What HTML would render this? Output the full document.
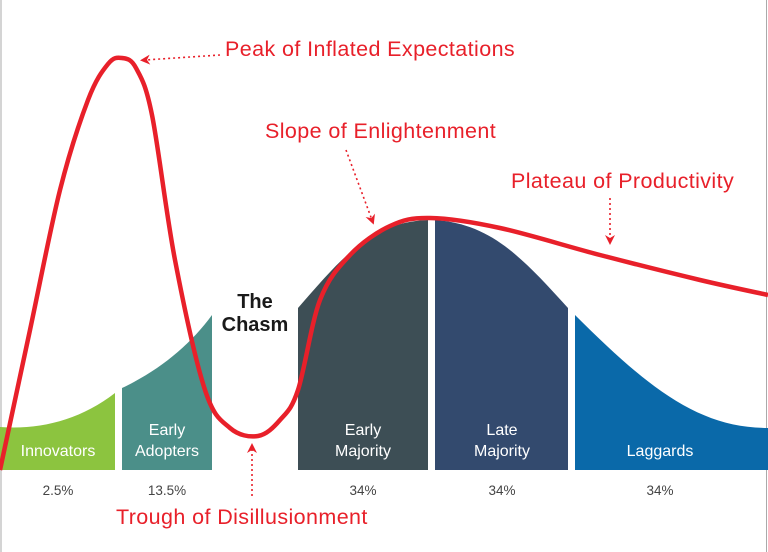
<!DOCTYPE html>
<html><head><meta charset="utf-8">
<style>
body{margin:0;background:#fff}
svg{display:block;font-family:"Liberation Sans",sans-serif}
</style></head>
<body>
<svg id="c" width="768" height="552" viewBox="0 0 768 552">
<defs>
<marker id="ah" markerWidth="10" markerHeight="10" refX="5" refY="5" orient="auto" markerUnits="userSpaceOnUse">
<path d="M0,0 L10,5 L0,10 L3,5 Z" fill="#e8202a"/></marker>
</defs>
<line x1="1" y1="0" x2="1" y2="552" stroke="#aaa" stroke-width="1"/>
<line x1="766.5" y1="0" x2="766.5" y2="552" stroke="#aaa" stroke-width="1"/>
<g id="segs"></g>
<g id="pcts" font-size="13.5" fill="#444" text-anchor="middle"></g>
<text x="255" y="308" font-size="20" font-weight="bold" text-anchor="middle" fill="#1a1a1a"><tspan x="255">The</tspan><tspan x="255" dy="23">Chasm</tspan></text>
<path id="hype" fill="none" stroke="#e8202a" stroke-width="4.5" stroke-linejoin="round"/>
<g fill="#e8202a" font-size="21.5" letter-spacing="0.4">
<text x="225" y="56">Peak of Inflated Expectations</text>
<text x="265" y="138">Slope of Enlightenment</text>
<text x="511" y="188">Plateau of Productivity</text>
<text x="116" y="524">Trough of Disillusionment</text>
</g>
<g stroke="#e8202a" stroke-width="1.6" stroke-dasharray="2,3" fill="none">
<line x1="220" y1="55" x2="145" y2="60" marker-end="url(#ah)"/>
<line x1="346" y1="150" x2="372" y2="220" marker-end="url(#ah)"/>
<line x1="610" y1="198" x2="610" y2="240" marker-end="url(#ah)"/>
<line x1="252" y1="496" x2="252" y2="448" marker-end="url(#ah)"/>
</g>
</svg>
<script>
const categories=["Innovators","Early Adopters","Early Majority","Late Majority","Laggards"];
const shares=["2.5%","13.5%","34%","34%","34%"];
const labelLines=[["Innovators"],["Early","Adopters"],["Early","Majority"],["Late","Majority"],["Laggards"]];
const hypeX=[0,30,60,88,108,122,136,152,175,205,230,258,280,298,320,350,390,430,500,600,700,768];
const hypeY=[470,330,190,100,64,58,68,115,260,390,428,436,420,390,300,255,226,218,228,255,280,295];
const NS="http://www.w3.org/2000/svg";
const colors=["#8cc43f","#4b8f89","#3d4e55","#334a6e","#0a69a9"];
const shapes=[
"M0,470 L0,427 C40,430 80,420 115,393 L115,470 Z",
"M122,470 L122,388 C160,370 190,345 212,315 L212,470 Z",
"M298,470 L298,308 C340,260 370,222 428,220 L428,470 Z",
"M435,470 L435,220 C490,224 520,255 568,308 L568,470 Z",
"M575,470 L575,315 C650,390 700,428 768,428 L768,470 Z"];
const lx=[58,167,363,502,660];
const segs=document.getElementById('segs'),pcts=document.getElementById('pcts');
categories.forEach((c,i)=>{
 const p=document.createElementNS(NS,'path');
 p.setAttribute('d',shapes[i]);p.setAttribute('fill',colors[i]);
 
 
 segs.appendChild(p);
 const t=document.createElementNS(NS,'text');
 t.setAttribute('fill','#fff');t.setAttribute('font-size','16');t.setAttribute('text-anchor','middle');
 
 
 const L=labelLines[i];
 L.forEach((s,j)=>{const ts=document.createElementNS(NS,'tspan');ts.setAttribute('x',lx[i]);ts.setAttribute('y',456-(L.length-1-j)*21);ts.textContent=s;t.appendChild(ts);});
 segs.appendChild(t);
 const q=document.createElementNS(NS,'text');
 q.setAttribute('x',lx[i]);q.setAttribute('y',495);q.textContent=shares[i];
 
 
 pcts.appendChild(q);
});
let d='M'+hypeX[0]+','+hypeY[0];
for(let i=0;i<hypeX.length-1;i++){
 const x0=hypeX[Math.max(i-1,0)],y0=hypeY[Math.max(i-1,0)],x1=hypeX[i],y1=hypeY[i],x2=hypeX[i+1],y2=hypeY[i+1],x3=hypeX[Math.min(i+2,hypeX.length-1)],y3=hypeY[Math.min(i+2,hypeX.length-1)];
 d+=' C'+(x1+(x2-x0)/6)+','+(y1+(y2-y0)/6)+' '+(x2-(x3-x1)/6)+','+(y2-(y3-y1)/6)+' '+x2+','+y2;
}
document.getElementById('hype').setAttribute('d',d);
</script>
</body></html>
